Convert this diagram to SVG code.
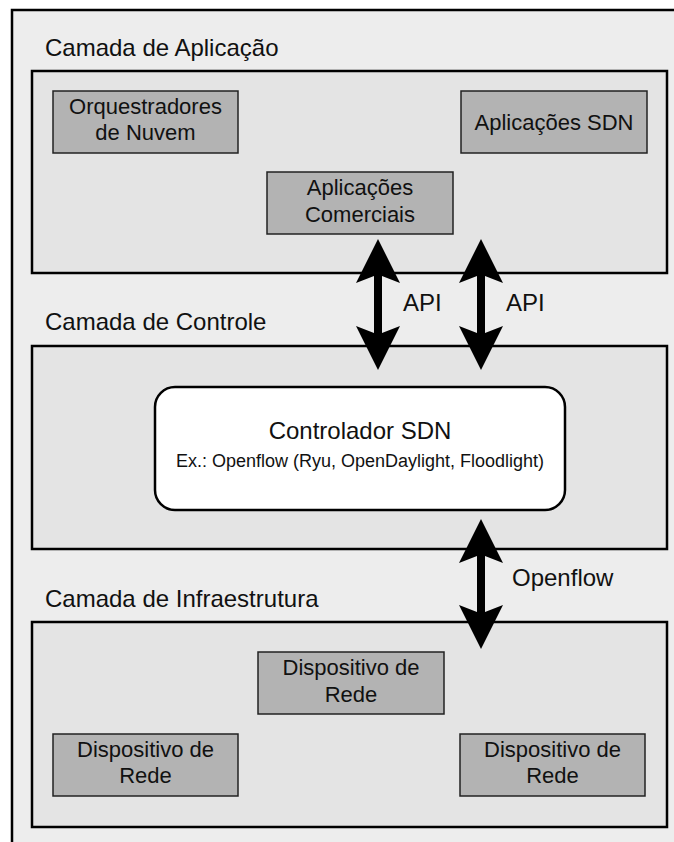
<svg xmlns="http://www.w3.org/2000/svg" width="674" height="842" viewBox="0 0 674 842">
<style>
text{font-family:"Liberation Sans",Arial,Helvetica,sans-serif;fill:#111}
.frame{fill:#ededed;stroke:#000;stroke-width:2.5}
.layer{fill:#e4e4e4;stroke:#000;stroke-width:2.5}
.dev{fill:#b3b3b3;stroke:#222;stroke-width:1.5}
.ctrl{fill:#fff;stroke:#000;stroke-width:2.5}
.lbl{font-size:24px}
.dt{font-size:22px;text-anchor:middle}
.arrow{fill:#000}
</style>
<rect width="674" height="842" fill="#fff"/>
<rect class="frame" x="12" y="10" width="680" height="850"/>
<g id="layer-app">
<text class="lbl" x="45" y="56">Camada de Aplicação</text>
<rect class="layer" x="32" y="71" width="635" height="202"/>
</g>
<g id="orquestradores">
<rect class="dev" x="53" y="91" width="185" height="62"/>
<text class="dt" x="145.5" y="114">Orquestradores</text>
<text class="dt" x="145.5" y="140">de Nuvem</text>
</g>
<g id="aplicacoes-sdn">
<rect class="dev" x="461" y="91" width="186" height="62"/>
<text class="dt" x="554" y="130">Aplicações SDN</text>
</g>
<g id="aplicacoes-comerciais">
<rect class="dev" x="267" y="172" width="186" height="62"/>
<text class="dt" x="360" y="195">Aplicações</text>
<text class="dt" x="360" y="222">Comerciais</text>
</g>
<g id="layer-control">
<text class="lbl" x="45" y="330">Camada de Controle</text>
<rect class="layer" x="32" y="346" width="635" height="203"/>
</g>
<g id="controlador">
<rect class="ctrl" x="155" y="387" width="410" height="123" rx="20" ry="20"/>
<text x="360" y="439" font-size="24" text-anchor="middle">Controlador SDN</text>
<text x="360" y="467" font-size="18" text-anchor="middle">Ex.: Openflow (Ryu, OpenDaylight, Floodlight)</text>
</g>
<g id="layer-infra">
<text class="lbl" x="45" y="607">Camada de Infraestrutura</text>
<rect class="layer" x="32" y="622" width="635" height="205"/>
</g>
<g id="dispositivo-centro">
<rect class="dev" x="258" y="652" width="186" height="62"/>
<text class="dt" x="351" y="675">Dispositivo de</text>
<text class="dt" x="351" y="702">Rede</text>
</g>
<g id="dispositivo-esquerda">
<rect class="dev" x="53" y="734" width="185" height="62"/>
<text class="dt" x="145.5" y="757">Dispositivo de</text>
<text class="dt" x="145.5" y="783">Rede</text>
</g>
<g id="dispositivo-direita">
<rect class="dev" x="460" y="734" width="185" height="62"/>
<text class="dt" x="552.5" y="757">Dispositivo de</text>
<text class="dt" x="552.5" y="783">Rede</text>
</g>
<g id="connectors">
<polygon class="arrow" points="378,239 400,283 382,276 382,333 400,326 378,370 356,326 374,333 374,276 356,283"/>
<polygon class="arrow" points="481,239 503,283 485,276 485,333 503,326 481,370 459,326 477,333 477,276 459,283"/>
<polygon class="arrow" points="481,519 503,563 485,556 485,612 503,605 481,649 459,605 477,612 477,556 459,563"/>
<text class="lbl" x="403" y="311">API</text>
<text class="lbl" x="506" y="311">API</text>
<text class="lbl" x="512" y="586">Openflow</text>
</g>
</svg>
